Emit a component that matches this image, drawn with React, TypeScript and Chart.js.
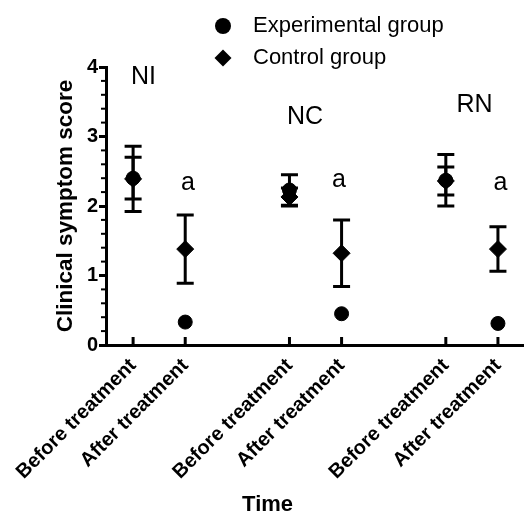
import { useEffect, useRef } from 'react';
import { Chart, registerables } from 'chart.js';

Chart.register(...registerables);

const categories = ['Before treatment', 'After treatment', 'Before treatment', 'After treatment', 'Before treatment', 'After treatment'];
const positions = [0, 1, 3, 4, 6, 7];
const seriesNames = ['Experimental group', 'Control group'];
const expMeans = [2.40, 0.33, 2.23, 0.45, 2.37, 0.31];
const expSD = [0.30, 0, 0.22, 0, 0.37, 0];
const ctrlMeans = [2.39, 1.38, 2.13, 1.32, 2.36, 1.38];
const ctrlSD = [0.47, 0.49, 0.13, 0.48, 0.20, 0.32];
const groupLabels = ['NI', 'NC', 'RN'];
const groupLabelX = [0.2, 3.3, 6.55];
const groupLabelY = [3.86, 3.28, 3.45];
const sigLabels = ['a', 'a', 'a'];
const sigX = [1.05, 3.95, 7.05];
const sigY = [2.33, 2.37, 2.33];
const xTitle = 'Time';
const xTitleAt = 2.58;
const yTitle = 'Clinical symptom score';
const yMinorStep = 0.2;

const FONT = "'Liberation Sans', Arial, sans-serif";

const overlayPlugin = {
  id: 'overlay',
  beforeDatasetsDraw(chart: any) {
    const ctx = chart.ctx;
    const xs = chart.scales.x;
    const ys = chart.scales.y;
    ctx.save();
    ctx.strokeStyle = '#000';
    ctx.lineWidth = 3;
    const cap = 8.5;
    const drawBar = (xv: number, m: number, sd: number) => {
      if (!sd) return;
      const px = xs.getPixelForValue(xv);
      const top = ys.getPixelForValue(m + sd);
      const bot = ys.getPixelForValue(m - sd);
      ctx.beginPath();
      ctx.moveTo(px, top);
      ctx.lineTo(px, bot);
      ctx.moveTo(px - cap, top);
      ctx.lineTo(px + cap, top);
      ctx.moveTo(px - cap, bot);
      ctx.lineTo(px + cap, bot);
      ctx.stroke();
    };
    positions.forEach((p, i) => {
      drawBar(p, expMeans[i], expSD[i]);
      drawBar(p, ctrlMeans[i], ctrlSD[i]);
    });
    ctx.restore();
  },
  afterDraw(chart: any) {
    const ctx = chart.ctx;
    const xs = chart.scales.x;
    const ys = chart.scales.y;
    const area = chart.chartArea;
    ctx.save();
    ctx.strokeStyle = '#000';
    // x ticks pointing up
    ctx.lineWidth = 3;
    positions.forEach((p) => {
      const px = xs.getPixelForValue(p);
      ctx.beginPath();
      ctx.moveTo(px, area.bottom);
      ctx.lineTo(px, area.bottom - 8);
      ctx.stroke();
    });
    // y minor ticks
    ctx.lineWidth = 2;
    for (let k = 1; k < Math.round((ys.max - ys.min) / yMinorStep); k++) {
      if (k % 5 === 0) continue;
      const py = ys.getPixelForValue(ys.min + k * yMinorStep);
      ctx.beginPath();
      ctx.moveTo(area.left, py);
      ctx.lineTo(area.left - 5, py);
      ctx.stroke();
    }
    // annotations
    ctx.fillStyle = '#000';
    ctx.textAlign = 'center';
    ctx.textBaseline = 'middle';
    ctx.font = `25px ${FONT}`;
    groupLabels.forEach((t, i) => {
      ctx.fillText(t, xs.getPixelForValue(groupLabelX[i]), ys.getPixelForValue(groupLabelY[i]));
    });
    sigLabels.forEach((t, i) => {
      ctx.fillText(t, xs.getPixelForValue(sigX[i]), ys.getPixelForValue(sigY[i]));
    });
    // x axis title
    ctx.font = `bold 22px ${FONT}`;
    ctx.fillText(xTitle, xs.getPixelForValue(xTitleAt), chart.height - 11);
    // legend
    ctx.font = `22px ${FONT}`;
    ctx.textAlign = 'left';
    const lx = 223;
    const rows = [26, 58];
    ctx.beginPath();
    ctx.arc(lx, rows[0], 8, 0, Math.PI * 2);
    ctx.fill();
    const r = 8.5;
    ctx.beginPath();
    ctx.moveTo(lx - r, rows[1]);
    ctx.lineTo(lx, rows[1] - r);
    ctx.lineTo(lx + r, rows[1]);
    ctx.lineTo(lx, rows[1] + r);
    ctx.closePath();
    ctx.fill();
    ctx.fillText(seriesNames[0], 253, rows[0]);
    ctx.fillText(seriesNames[1], 253, rows[1]);
    ctx.restore();
  },
};

export default function App() {
  const ref = useRef<HTMLCanvasElement | null>(null);
  useEffect(() => {
    if (!ref.current) return;
    const chart = new Chart(ref.current, {
      type: 'scatter',
      data: {
        datasets: [
          {
            label: seriesNames[0],
            data: positions.map((p, i) => ({ x: p, y: expMeans[i] })),
            pointStyle: 'circle',
            pointRadius: 7,
            backgroundColor: '#000',
            borderColor: '#000',
          },
          {
            label: seriesNames[1],
            data: positions.map((p, i) => ({ x: p, y: ctrlMeans[i] })),
            pointStyle: 'rectRot',
            pointRadius: 8.5,
            backgroundColor: '#000',
            borderColor: '#000',
          },
        ],
      },
      options: {
        animation: false,
        responsive: true,
        maintainAspectRatio: false,
        layout: { autoPadding: false, padding: { top: 67, left: 50, right: 0, bottom: 0 } },
        plugins: { legend: { display: false }, tooltip: { enabled: false } },
        scales: {
          x: {
            type: 'linear',
            min: -0.52,
            max: 7.5,
            afterBuildTicks: (s: any) => {
              s.ticks = positions.map((v) => ({ value: v }));
            },
            afterFit: (s: any) => {
              s.height = 171;
              s.paddingLeft = 0;
              s.paddingRight = 0;
            },
            ticks: {
              autoSkip: false,
              maxRotation: 45,
              minRotation: 45,
              color: '#000',
              font: { family: FONT, size: 20, weight: 'bold' },
              callback: (v: any) => categories[positions.indexOf(Number(v))] ?? '',
            },
            grid: { drawOnChartArea: false, drawTicks: true, tickLength: 6, tickColor: 'rgba(0,0,0,0)' },
            border: { display: true, color: '#000', width: 3 },
            title: { display: false },
          },
          y: {
            min: 0,
            max: 4,
            afterFit: (s: any) => {
              s.width = 56;
            },
            ticks: {
              stepSize: 1,
              color: '#000',
              padding: 1,
              font: { family: FONT, size: 20, weight: 'bold' },
            },
            grid: { drawOnChartArea: false, drawTicks: true, tickLength: 7, tickWidth: 3, tickColor: '#000' },
            border: { display: true, color: '#000', width: 3 },
            title: {
              display: true,
              text: yTitle,
              color: '#000',
              font: { family: FONT, size: 22.5, weight: 'bold' },
              padding: { top: 2, bottom: 2 },
            },
          },
        },
      } as any,
      plugins: [overlayPlugin],
    });
    return () => chart.destroy();
  }, []);
  return (
    <div style={{ position: 'fixed', left: 0, top: 0, width: 524, height: 516, background: '#fff' }}>
      <canvas ref={ref} />
    </div>
  );
}
